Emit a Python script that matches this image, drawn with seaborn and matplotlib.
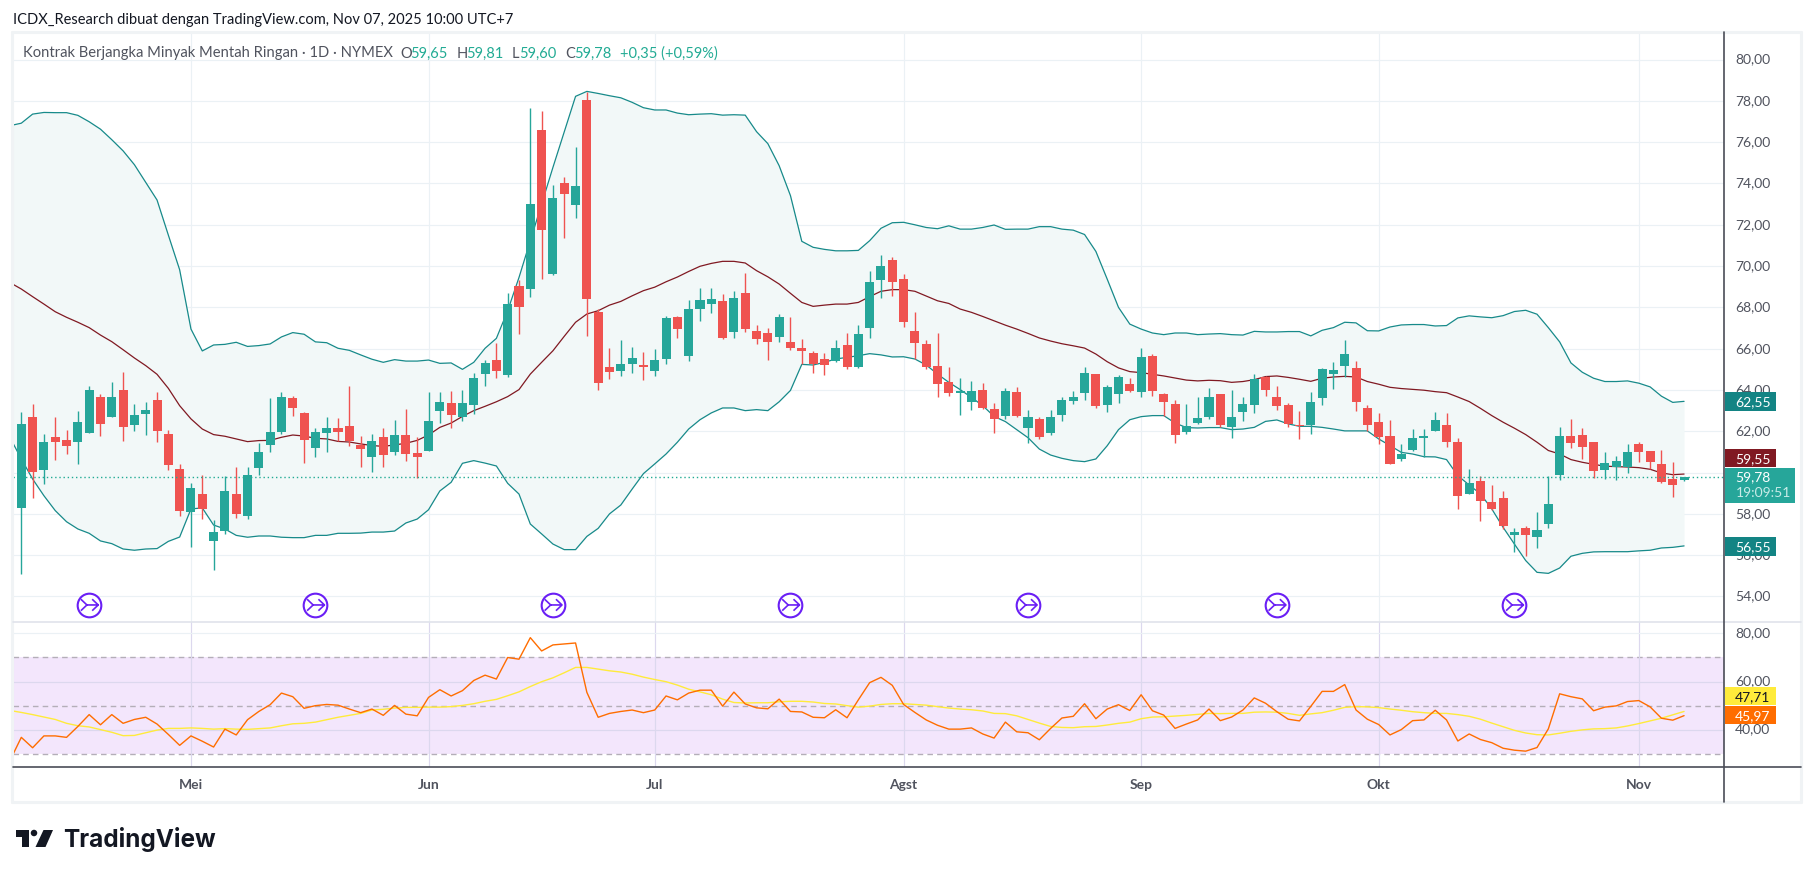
import numpy as np
import pandas as pd
import matplotlib
matplotlib.use("Agg")
import matplotlib.pyplot as plt
from matplotlib.lines import Line2D
from matplotlib.patches import Ellipse, Polygon, Rectangle
from matplotlib.path import Path
import seaborn as sns

# bougies journalieres
candle_open = [
    58.29,62.69,60.13,61.72,61.58,61.48,61.92,63.66,62.69,64.0,
    62.31,62.84,63.52,61.87,60.17,58.09,58.96,56.69,57.17,58.96,
    57.9,60.22,61.34,61.97,63.61,62.89,61.19,61.92,62.16,62.26,
    61.34,60.76,61.72,61.0,61.82,60.95,61.05,62.98,63.37,62.69,
    63.27,64.77,65.45,64.73,69.05,68.89,76.59,69.62,74.02,72.96,
    78.02,67.78,65.11,64.92,65.26,65.16,64.92,65.5,67.54,65.65,
    67.92,68.16,68.31,66.81,68.7,66.86,66.76,66.57,66.33,66.03,
    65.79,65.5,65.4,66.18,65.11,67.0,69.33,70.29,69.38,66.86,
    66.23,65.16,64.39,63.87,63.42,64.0,63.08,62.74,63.9,62.16,
    62.6,61.92,62.79,63.47,63.85,64.77,63.27,63.81,64.29,63.9,
    65.65,63.81,63.32,61.97,62.4,62.69,63.81,62.21,62.94,63.27,
    64.63,63.66,63.27,62.31,62.31,63.61,64.78,65.16,65.07,63.13,
    62.45,61.77,60.66,61.1,61.68,62.02,62.31,61.48,58.97,59.6,
    58.58,58.77,56.98,57.32,56.88,57.51,59.89,61.77,61.82,61.48,
    60.13,60.27,60.27,61.39,61.05,60.42,59.69,59.65]
candle_high = [
    62.92,63.32,61.87,62.69,62.06,62.98,64.18,63.81,64.39,64.87,
    63.32,63.42,63.9,62.06,60.42,59.5,59.88,57.7,59.83,60.27,
    60.27,61.43,63.61,63.9,63.71,62.93,62.16,62.69,62.64,64.19,
    61.77,61.87,62.16,62.55,63.08,61.72,63.9,63.9,63.95,64.0,
    64.82,65.45,66.28,68.7,69.33,77.66,77.51,73.93,74.31,75.77,
    78.45,67.9,66.03,66.42,66.08,65.84,65.99,67.58,67.58,68.36,
    68.94,68.94,68.65,68.79,69.67,67.15,67.0,67.68,67.54,66.47,
    65.89,65.79,66.42,66.76,67.15,69.76,70.54,70.44,69.62,67.78,
    66.42,66.76,65.11,64.58,64.44,64.34,63.37,64.1,64.15,63.03,
    62.69,63.03,63.66,63.95,65.11,64.77,64.24,64.73,64.58,66.03,
    65.74,63.85,63.52,63.32,63.66,64.1,63.81,64.0,63.66,64.78,
    64.68,64.2,63.37,62.98,63.9,65.07,65.36,66.42,65.41,63.27,
    62.89,62.55,61.39,62.11,62.11,62.94,62.89,61.68,60.18,59.84,
    59.4,59.11,57.32,57.42,58.09,59.84,62.21,62.6,62.16,61.48,
    61.0,60.81,61.39,61.48,61.05,61.1,60.51,59.81]
candle_low = [
    55.09,58.77,59.45,60.61,60.90,60.42,61.92,61.77,62.69,61.53,
    62.02,61.82,61.48,60.13,57.9,56.4,57.75,55.28,57.03,57.8,
    57.75,59.88,61.0,61.87,62.74,60.47,60.76,61.0,61.53,61.29,
    60.27,60.03,60.27,60.85,60.56,59.74,61.05,62.4,62.16,62.5,
    62.84,64.19,64.58,64.65,66.71,68.52,69.38,69.57,71.36,72.33,
    66.63,64.0,64.53,64.68,64.82,64.48,64.68,65.26,66.52,65.4,
    67.34,67.72,66.47,66.52,66.81,66.23,65.45,66.33,65.94,65.26,
    64.82,64.73,65.36,65.02,65.07,66.52,68.46,68.55,67.05,65.5,
    65.02,63.66,63.71,62.79,63.03,63.08,61.92,62.6,62.69,61.43,
    61.63,61.82,62.5,63.32,63.52,63.13,62.94,63.37,63.9,63.66,
    63.71,62.74,61.43,61.87,62.35,62.6,62.21,61.68,62.5,62.89,
    63.71,63.03,62.21,61.63,61.87,63.27,64.05,64.63,62.98,62.02,
    61.39,60.42,60.56,61.05,60.76,62.02,61.24,58.24,58.97,57.66,
    58.19,57.27,56.16,55.96,56.35,57.32,59.64,61.19,60.66,59.74,
    59.69,59.64,59.98,60.51,60.18,59.5,58.82,59.6]
candle_close = [
    62.35,60.03,61.48,61.48,61.29,62.45,64.0,62.35,63.66,62.21,
    62.79,63.03,62.02,60.37,58.14,59.25,58.24,57.12,59.11,57.99,
    59.88,61.0,61.97,63.66,63.13,61.58,61.97,62.16,61.97,61.53,
    61.14,61.53,60.85,61.82,60.9,60.76,62.5,63.42,62.79,63.37,
    64.58,65.31,64.92,68.17,68.02,73.0,71.75,73.3,73.49,73.88,
    68.4,64.34,64.87,65.26,65.55,65.13,65.45,67.49,66.95,67.92,
    68.36,68.41,66.52,68.46,66.96,66.47,66.33,67.54,66.03,65.89,
    65.26,65.21,66.03,65.11,66.71,69.23,70.0,69.23,67.29,66.28,
    65.11,64.29,63.85,63.9,63.95,63.13,62.6,63.95,62.74,62.69,
    61.72,62.69,63.52,63.66,64.82,63.22,64.15,64.63,63.95,65.6,
    63.95,63.42,61.82,62.26,62.64,63.66,62.31,62.7,63.32,64.53,
    64.0,63.23,62.36,62.24,63.42,65.02,64.97,65.75,63.42,62.31,
    61.73,60.42,60.9,61.68,61.73,62.55,61.48,58.87,59.5,58.63,
    58.24,57.43,57.13,56.98,57.22,58.48,61.77,61.44,61.24,60.08,
    60.47,60.56,61.0,61.0,60.51,59.55,59.4,59.78]

# indicateurs : la premiere valeur est une barre avant la premiere bougie
bb_upper = [
    76.8,76.92,77.36,77.44,77.43,77.43,77.3,76.99,76.63,76.12,
    75.58,74.91,74.05,73.2,71.5,69.82,66.95,65.89,66.18,66.21,
    66.31,66.11,66.15,66.23,66.57,66.78,66.7,66.33,66.29,66.02,
    65.92,65.7,65.49,65.34,65.47,65.4,65.4,65.45,65.29,65.31,
    65.0,65.34,66.02,66.5,67.84,69.45,71.23,73.0,74.78,76.5,
    78.22,78.46,78.36,78.25,78.15,77.93,77.67,77.56,77.56,77.41,
    77.33,77.36,77.38,77.31,77.33,77.31,76.51,75.93,74.86,73.41,
    71.2,70.91,70.81,70.74,70.74,70.76,71.23,71.83,72.1,72.12,
    72.0,71.87,71.81,71.95,71.79,71.79,71.87,71.99,71.78,71.79,
    71.79,71.91,71.91,71.79,71.74,71.53,70.71,69.37,68.0,67.19,
    66.95,66.76,66.68,66.76,66.76,66.68,66.71,66.73,66.68,66.66,
    66.84,66.81,66.81,66.83,66.83,66.62,66.89,67.02,67.28,67.25,
    66.87,66.86,67.05,67.15,67.17,67.17,67.1,67.12,67.49,67.59,
    67.54,67.5,67.6,67.8,67.86,67.67,67.02,66.33,65.31,64.86,
    64.57,64.41,64.41,64.44,64.33,64.15,63.7,63.4,63.45]
bb_basis = [
    69.2,68.89,68.52,68.16,67.79,67.52,67.28,67.02,66.66,66.34,
    65.95,65.55,65.18,64.76,64.08,63.24,62.6,62.11,61.84,61.76,
    61.63,61.5,61.55,61.56,61.71,61.82,61.77,61.66,61.63,61.51,
    61.48,61.39,61.31,61.27,61.34,61.42,61.56,61.82,62.19,62.4,
    62.72,63.0,63.21,63.43,63.68,64.02,64.77,65.34,65.9,66.6,
    67.28,67.68,67.84,68.11,68.29,68.56,68.81,68.98,69.24,69.47,
    69.74,69.99,70.13,70.23,70.23,70.15,69.78,69.48,69.13,68.68,
    68.24,68.05,68.11,68.16,68.16,68.24,68.52,68.78,68.86,68.86,
    68.78,68.55,68.32,68.19,67.92,67.76,67.56,67.35,67.14,66.95,
    66.74,66.52,66.37,66.24,66.14,66.03,65.74,65.37,65.07,64.89,
    64.84,64.76,64.68,64.58,64.48,64.44,64.47,64.45,64.37,64.41,
    64.5,64.65,64.68,64.61,64.52,64.42,64.57,64.63,64.66,64.63,
    64.41,64.28,64.13,64.07,64.03,63.99,63.92,63.87,63.66,63.44,
    63.11,62.76,62.44,62.15,61.84,61.47,61.07,60.9,60.63,60.5,
    60.4,60.31,60.29,60.27,60.24,60.16,59.98,59.9,59.93]
bb_lower = [
    61.7,60.66,59.69,58.88,58.16,57.62,57.27,57.06,56.69,56.56,
    56.3,56.24,56.3,56.32,56.67,56.88,58.24,58.29,57.46,57.27,
    56.96,56.87,56.93,56.93,56.87,56.85,56.85,56.96,56.96,57.06,
    57.06,57.07,57.12,57.12,57.17,57.56,57.75,58.2,59.11,59.53,
    60.45,60.58,60.46,60.32,59.48,58.96,57.51,57.03,56.54,56.27,
    56.27,56.91,57.3,58.0,58.43,59.2,59.95,60.42,60.9,61.47,
    62.11,62.56,62.89,63.13,63.13,63.0,63.05,63.0,63.43,63.98,
    65.24,65.21,65.34,65.5,65.58,65.66,65.76,65.7,65.6,65.61,
    65.5,65.21,64.77,64.37,64.02,63.64,63.24,62.72,62.47,62.08,
    61.69,61.14,60.85,60.69,60.58,60.53,60.66,61.3,62.08,62.56,
    62.71,62.76,62.76,62.4,62.18,62.16,62.18,62.18,62.08,62.11,
    62.19,62.48,62.55,62.36,62.24,62.24,62.19,62.11,62.02,62.02,
    62.02,61.63,61.31,60.98,60.9,60.77,60.76,60.63,59.85,59.4,
    58.97,58.24,57.35,56.54,55.74,55.17,55.12,55.38,55.95,56.09,
    56.16,56.17,56.17,56.17,56.21,56.24,56.35,56.38,56.45]
rsi_line = [
    27.4,37.0,32.7,37.6,37.6,37.0,41.5,46.4,42.2,46.4,
    42.8,44.4,45.3,42.5,38.2,33.7,37.6,35.4,33.0,40.4,
    38.0,44.3,47.7,50.5,55.3,53.8,49.0,50.1,50.6,50.3,
    48.7,47.2,48.7,46.1,50.2,46.6,45.9,53.5,56.7,54.1,
    56.3,60.5,62.7,61.1,70.0,69.3,78.2,72.7,75.2,75.6,
    76.0,55.6,45.3,46.9,47.7,48.3,47.2,48.3,54.1,52.5,
    55.3,56.5,56.5,49.9,55.7,50.8,49.2,48.8,52.8,47.7,
    47.5,45.3,45.1,48.4,45.1,52.5,59.6,61.8,58.5,50.6,
    47.3,44.2,42.0,40.4,40.4,40.9,38.4,36.7,43.3,39.3,
    38.9,36.0,40.7,45.0,45.7,50.9,44.7,48.7,50.5,48.1,
    54.6,48.0,46.2,40.7,42.5,44.2,48.7,43.9,45.4,48.3,
    53.3,51.1,47.6,44.5,43.8,49.8,56.0,56.0,58.8,48.3,
    44.5,42.3,38.0,40.2,43.9,44.2,48.2,44.2,35.5,38.4,
    36.1,34.8,32.5,31.7,31.3,32.8,40.5,55.0,53.8,52.9,
    48.0,49.5,50.0,51.8,52.2,49.6,44.9,44.1,45.97]
rsi_ma = [
    48.1,47.3,46.4,45.4,44.4,42.8,41.8,41.3,40.2,39.1,
    37.7,37.8,38.9,40.0,40.7,40.7,40.9,40.7,40.4,40.6,
    40.4,40.3,40.6,40.9,41.8,42.6,42.8,43.3,44.3,45.3,
    46.1,46.9,48.3,48.6,49.1,49.4,49.4,49.5,49.5,49.7,
    50.2,50.9,51.9,52.7,54.2,55.8,58.0,60.0,61.6,63.7,
    65.9,65.9,65.2,64.5,64.0,63.1,61.9,60.9,60.0,58.6,
    56.9,55.8,54.6,52.8,51.4,51.2,51.3,51.3,51.7,51.9,
    51.9,51.6,51.0,50.8,50.1,49.5,49.9,50.6,50.9,50.9,
    50.6,50.3,49.7,49.1,48.7,48.4,47.9,46.9,46.8,45.9,
    44.4,42.9,41.5,41.1,41.0,41.4,41.5,42.1,42.8,43.3,
    44.7,45.4,45.5,45.8,46.1,46.5,46.9,46.8,46.9,46.9,
    47.4,47.5,47.4,46.9,46.1,46.7,47.2,48.2,49.4,49.7,
    49.6,49.3,48.7,48.2,47.6,47.2,46.9,46.9,46.4,45.7,
    44.5,42.9,41.4,39.9,38.8,38.1,38.0,38.7,39.5,40.1,
    40.5,40.6,40.9,41.7,42.7,43.8,44.9,46.3,47.71]

month_labels = ["Mei", "Jun", "Jul", "Agst", "Sep", "Okt", "Nov"]
month_bars = [15, 36, 56, 78, 99, 120, 143]
price_ticks = list(range(54, 82, 2))
hidden_ticks = [60]  # cachee par l'etiquette du dernier prix
rsi_ticks = [40, 60, 80]
rsi_bands = [30, 50, 70]
dividend_bars = [6, 26, 47, 68, 89, 111, 132]
last_close = 59.78

W, H = 1814, 878
LEFT, RIGHT, FRAME_R = 13, 1724, 1801
TOP, SPLIT, BOTTOM, FRAME_B = 33, 623, 768, 803

TEAL, RED = "#26a69a", "#ef5350"
BAND = "#178a8a"
GRID = "#ebf1f5"
TXT = "#50535e"
FONT = ["Lato", "DejaVu Sans"]

sns.set_theme(style="white")
plt.rcParams["font.family"] = FONT


def box(left, top, right, bottom):
    return [left / W, 1 - bottom / H, (right - left) / W, (bottom - top) / H]


def px_text(x, y, s, **kw):
    kw.setdefault("va", "center")
    kw.setdefault("fontsize", 10)
    fig.text(x / W, 1 - y / H, s, **kw)


def px_rect(left, top, right, bottom, color, zorder=20):
    fig.add_artist(Rectangle((left / W, 1 - bottom / H), (right - left) / W, (bottom - top) / H,
                             transform=fig.transFigure, color=color, lw=0, zorder=zorder))


def px_line(x0, y0, x1, y1, color, lw=1.0):
    fig.add_artist(Line2D([x0 / W, x1 / W], [1 - y0 / H, 1 - y1 / H], color=color, lw=lw, zorder=15))


fig = plt.figure(figsize=(W / 100, H / 100), dpi=100, facecolor="white")
ax = fig.add_axes(box(LEFT, TOP, RIGHT, SPLIT))
ax_rsi = fig.add_axes(box(LEFT, SPLIT, RIGHT, BOTTOM), sharex=ax)

bars = pd.DataFrame({"open": candle_open, "high": candle_high, "low": candle_low, "close": candle_close})
bars["bar"] = np.arange(len(bars))
bars["up"] = bars["close"] >= bars["open"]
bars["color"] = np.where(bars["up"], TEAL, RED)

lines = pd.DataFrame({"bar": np.arange(-1, len(bars)), "upper": bb_upper, "basis": bb_basis,
                      "lower": bb_lower, "rsi": rsi_line, "ma": rsi_ma})

# prix
ax.fill_between(lines["bar"], lines["lower"], lines["upper"], color="#f2f8f8", lw=0, zorder=1)
for col, color in [("upper", BAND), ("lower", BAND), ("basis", "#801922")]:
    sns.lineplot(data=lines, x="bar", y=col, ax=ax, color=color, lw=0.9, estimator=None, sort=False, zorder=2)
ax.vlines(bars["bar"], bars["low"], bars["high"], colors=bars["color"], lw=1.0, zorder=3)
ax.bar(bars["bar"], (bars["close"] - bars["open"]).abs().clip(lower=0.08),
       bottom=bars[["open", "close"]].min(axis=1), width=0.8, color=bars["color"], lw=0, zorder=4)
ax.axhline(last_close, color="#22ab94", lw=1.0, ls=(0, (1, 2)), zorder=5)

# icones dividendes
icon_level = 53.59
ax.scatter(dividend_bars, [icon_level] * len(dividend_bars), s=290, facecolors="white",
           edgecolors="#6a1ff5", linewidths=1.5, zorder=6, clip_on=False)
glyph = Path([(-0.55, 0.38), (-0.15, 0), (-0.55, -0.38), (-0.15, 0), (0.6, 0), (0.2, 0.38), (0.6, 0), (0.2, -0.38)],
             [Path.MOVETO, Path.LINETO, Path.LINETO, Path.MOVETO, Path.LINETO, Path.MOVETO, Path.LINETO, Path.LINETO])
ax.scatter(dividend_bars, [icon_level] * len(dividend_bars), s=170, marker=glyph, facecolors="none",
           edgecolors="#6a1ff5", linewidths=1.2, zorder=7, clip_on=False)

ax.set_xlim(-0.734, 150.53)
ax.set_ylim(52.765, 81.336)
ax.set_yticks(price_ticks)

# rsi
ax_rsi.axhspan(rsi_bands[0], rsi_bands[2], color="#f3e6fc", lw=0, zorder=0)
for level in rsi_bands:
    ax_rsi.axhline(level, color="#b4aeb8", lw=1.0, ls=(0, (4, 3)), zorder=1)
sns.lineplot(data=lines, x="bar", y="ma", ax=ax_rsi, color="#ffeb3b", lw=1.0, estimator=None, sort=False, zorder=3)
sns.lineplot(data=lines, x="bar", y="rsi", ax=ax_rsi, color="#ff6d00", lw=1.0, estimator=None, sort=False, zorder=4)
ax_rsi.set_ylim(24.75, 84.67)
ax_rsi.set_yticks(rsi_ticks)

for a in (ax, ax_rsi):
    a.set_xticks(month_bars)
    a.grid(True, color=GRID, lw=0.85, zorder=0)
    a.set_axisbelow(True)
    a.set_xlabel("")
    a.set_ylabel("")
    a.tick_params(left=False, bottom=False, labelleft=False, labelbottom=False)
    for s in a.spines.values():
        s.set_visible(False)
# la grille rsi passe sous le fond violet mais reste visible
ax_rsi.grid(True, color="#dcd8ee", lw=0.85, zorder=0.5)
for gl, level in zip(ax_rsi.get_ygridlines(), rsi_ticks):
    if level == 80:
        gl.set_color(GRID)
ax_rsi.set_axisbelow(False)
for gl in ax_rsi.get_xgridlines() + ax_rsi.get_ygridlines():
    gl.set_zorder(0.5)

# cadre et axes
frame = "#f0f3f5"
px_line(12, TOP, FRAME_R, TOP, frame, 2.2)
px_line(12, TOP, 12, FRAME_B, frame, 2.2)
px_line(FRAME_R, TOP, FRAME_R, FRAME_B, frame, 2.2)
px_line(12, FRAME_B, FRAME_R, FRAME_B, frame, 2.2)
px_line(LEFT, SPLIT, FRAME_R, SPLIT, "#e0e3eb", 1.2)
px_line(LEFT, BOTTOM, FRAME_R, BOTTOM, "#4a4d57", 1.2)
px_line(RIGHT, TOP, RIGHT, FRAME_B, "#4a4d57", 1.2)

# graduations
for p in price_ticks:
    if p in hidden_ticks:
        continue
    y = ax.transData.transform((0, p))[1]
    px_text(1735, H - y - 1, f"{p},00", color=TXT)
for v in rsi_ticks:
    y = ax_rsi.transData.transform((0, v))[1]
    px_text(1735, H - y - 1.5, f"{v},00", color=TXT)
for m, b in zip(month_labels, month_bars):
    x = ax.transData.transform((b, 0))[0]
    px_text(x, 785, m, color=TXT, ha="center", fontweight="bold")

# etiquettes de droite
for yc, col, label, fg in [(402.5, "#138484", "62,55", "white"), (459, "#801922", "59,55", "white"),
                           (547.5, "#138484", "56,55", "white"), (697, "#ffeb3b", "47,71", "#131722"),
                           (716, "#ff6d00", "45,97", "white")]:
    px_rect(RIGHT + 1, yc - 9.3, 1775.5, yc + 9.3, col)
    px_text(1735, yc, label, color=fg, zorder=21)
px_rect(RIGHT + 1, 469, 1794.5, 504, "#26a69a")
px_text(1735, 477.5, "59,78", color="white", zorder=21)
px_text(1736, 493.5, "19:09:51", color="#c8ebe7", zorder=21)

# titres
px_text(13, 20, "ICDX_Research dibuat dengan TradingView.com, Nov 07, 2025 10:00 UTC+7", color="#131722", fontsize=10.5)
px_text(23, 53.5, "Kontrak Berjangka Minyak Mentah Ringan · 1D · NYMEX", color=TXT, fontsize=10.6)
for x, s, c in [(400, "O", TXT), (410, "59,65", "#22ab94"), (456.5, "H", TXT), (466, "59,81", "#22ab94"),
                (512, "L", TXT), (519, "59,60", "#22ab94"), (565, "C", TXT), (574, "59,78", "#22ab94"),
                (620.5, "+0,35 (+0,59%)", "#22ab94")]:
    px_text(x, 53.5, s, color=c, fontsize=10.5)

# logo
logo = "#131722"
for pts in ([(15.7, 831), (29, 831), (29, 848), (22, 848), (22, 837.5), (15.7, 837.5)],
            [(43.5, 831), (53, 831), (45.5, 848), (35.5, 848)]):
    fig.add_artist(Polygon([(x / W, 1 - y / H) for x, y in pts], closed=True, transform=fig.transFigure,
                           color=logo, lw=0))
fig.add_artist(Ellipse((34 / W, 1 - 834 / H), 6.5 / W, 6.5 / H, transform=fig.transFigure, color=logo, lw=0))
px_text(63, 840, "TradingView", color=logo, fontsize=17.5, fontweight="bold", family=["Inter", "DejaVu Sans"])

fig.savefig("out.png", dpi=100)
